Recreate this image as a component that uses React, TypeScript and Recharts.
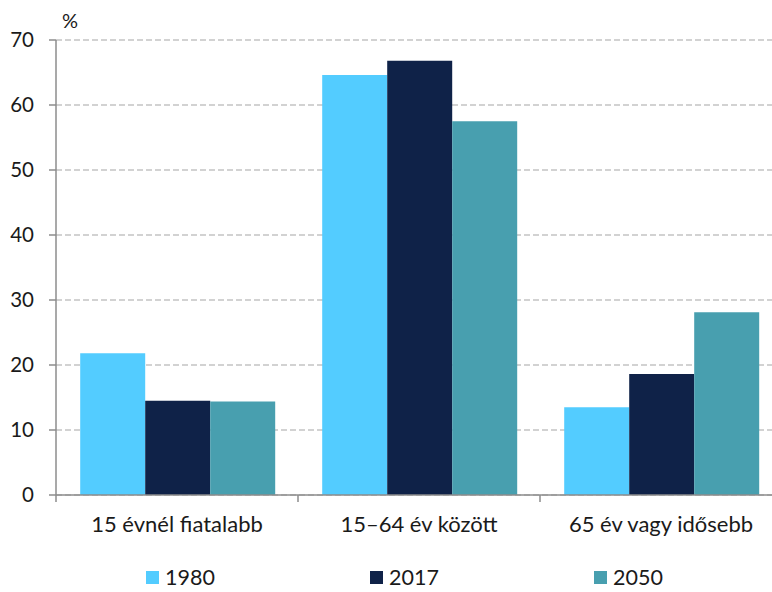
import React from 'react';
import { BarChart, Bar, XAxis, YAxis, CartesianGrid, Legend } from 'recharts';

const categories = ['15 évnél fiatalabb', '15–64 év között', '65 év vagy idősebb'];
const values1980 = [21.8, 64.6, 13.5];
const values2017 = [14.5, 66.8, 18.6];
const values2050 = [14.4, 57.5, 28.1];
const yTicks = [0, 10, 20, 30, 40, 50, 60, 70];
const seriesNames = ['1980', '2017', '2050'];
const seriesColors = ['#53CCFF', '#0F2248', '#489FAF'];

const data = categories.map((c, i) => ({
  name: c,
  s1980: values1980[i],
  s2017: values2017[i],
  s2050: values2050[i],
}));

const FONT = 'Lato, "Open Sans", sans-serif';
const AXIS = '#8C8C8C';

const CatTick = (props: any) => {
  const { x, y, payload } = props;
  const half = payload && typeof payload.offset === 'number' && payload.offset > 0 ? payload.offset : 121;
  return (
    <g>
      <line x1={x - half} x2={x - half} y1={y - 7} y2={y} stroke={AXIS} strokeWidth={1.5} />
      <text x={x} y={y + 30} textAnchor="middle" fill="#1a1a1a" fontSize={22} fontFamily={FONT}>
        {payload.value}
      </text>
    </g>
  );
};

const renderLegend = (props: any) => {
  const payload = props.payload || [];
  return (
    <div style={{ position: 'relative', height: 24, width: 772 }}>
      {payload.map((p: any, i: number) => (
        <div
          key={i}
          style={{
            position: 'absolute',
            left: 146 + i * 224,
            top: 0,
            display: 'flex',
            alignItems: 'center',
            fontFamily: FONT,
            fontSize: 21.5,
            color: '#1a1a1a',
            lineHeight: '24px',
          }}
        >
          <span style={{ display: 'inline-block', width: 13, height: 13, background: p.color, marginRight: 6 }} />
          <span>{p.value}</span>
        </div>
      ))}
    </div>
  );
};

export default function App() {
  return (
    <div style={{ position: 'absolute', left: 0, top: 0, width: 772, height: 592, overflow: 'hidden', background: '#fff' }}>
      <div style={{ position: 'absolute', left: 62, top: 8, fontFamily: FONT, fontSize: 20, color: '#1a1a1a' }}>%</div>
      <BarChart
        width={790}
        height={592}
        data={data}
        margin={{ top: 40, right: 8, left: 0, bottom: 43 }}
        barCategoryGap="10%"
        barGap={0}
      >
        <CartesianGrid horizontal vertical={false} stroke="#C3C3C3" strokeDasharray="6 3" strokeWidth={1.3} />
        <XAxis
          dataKey="name"
          tick={<CatTick />}
          tickLine={false}
          tickSize={7}
          tickMargin={0}
          height={30}
          axisLine={{ stroke: AXIS, strokeWidth: 1.5 }}
          interval={0}
        />
        <YAxis
          width={56}
          domain={[0, 70]}
          ticks={yTicks}
          interval={0}
          tickSize={7}
          tickMargin={15}
          axisLine={{ stroke: AXIS, strokeWidth: 1.5 }}
          tickLine={{ stroke: AXIS, strokeWidth: 1.5 }}
          tick={{ fill: '#1a1a1a', fontSize: 20.5, fontFamily: FONT }}
        />
        <Legend
          verticalAlign="bottom"
          content={renderLegend}
          wrapperStyle={{ left: 0, top: 565, width: 772 }}
        />
        <Bar dataKey="s1980" name={seriesNames[0]} fill={seriesColors[0]} isAnimationActive={false} />
        <Bar dataKey="s2017" name={seriesNames[1]} fill={seriesColors[1]} isAnimationActive={false} />
        <Bar dataKey="s2050" name={seriesNames[2]} fill={seriesColors[2]} isAnimationActive={false} />
      </BarChart>
    </div>
  );
}
